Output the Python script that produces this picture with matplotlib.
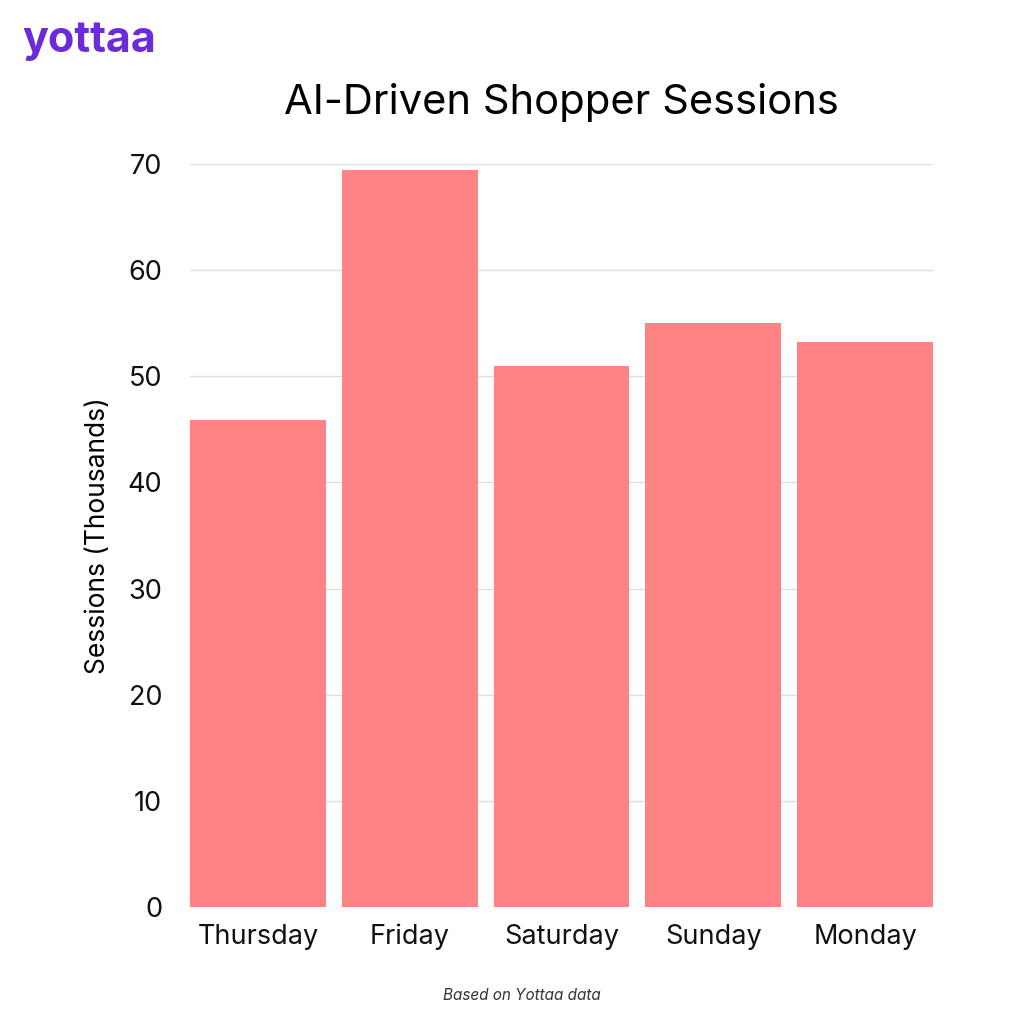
"""AI-driven shopper sessions by day (bar chart)."""

import matplotlib

matplotlib.use("Agg")

import matplotlib.pyplot as plt  # noqa: E402

days = ["Thursday", "Friday", "Saturday", "Sunday", "Monday"]
sessions = [45.9, 69.4, 51.0, 55.0, 53.2]
yticks = [0, 10, 20, 30, 40, 50, 60, 70]

plt.rcParams["font.family"] = ["Inter", "DejaVu Sans"]

fig = plt.figure(figsize=(10.24, 10.24), dpi=100)
ax = fig.add_axes([190 / 1024, 117 / 1024, 743 / 1024, 743 / 1024])

x = range(len(days))
ax.bar(x, sessions, width=0.895, color="#ff8385", zorder=2)
ax.set_xlim(-0.4475, len(days) - 1 + 0.4475)
ax.set_ylim(0, 70)
ax.set_yticks(yticks)
ax.set_xticks(list(x))
ax.set_xticklabels(days)
ax.tick_params(axis="both", length=0, labelsize=19.5, colors="#111111")
ax.tick_params(axis="y", pad=20)
ax.tick_params(axis="x", pad=12)
ax.grid(axis="y", color="#dddddd", linewidth=1, zorder=0)
for s in ax.spines.values():
    s.set_visible(False)
ax.set_ylabel("Sessions (Thousands)", fontsize=19, labelpad=12)

fig.text(0.548, 0.9, "AI-Driven Shopper Sessions", ha="center", va="center", fontsize=30)
fig.text(0.022, 0.96, "yottaa", ha="left", va="center", fontsize=31,
         fontweight="bold", color="#6b2bd9")
fig.text(0.51, 0.028, "Based on Yottaa data", ha="center", va="center",
         fontsize=11, style="italic", color="#333333")

fig.savefig("out.png", dpi=100)
